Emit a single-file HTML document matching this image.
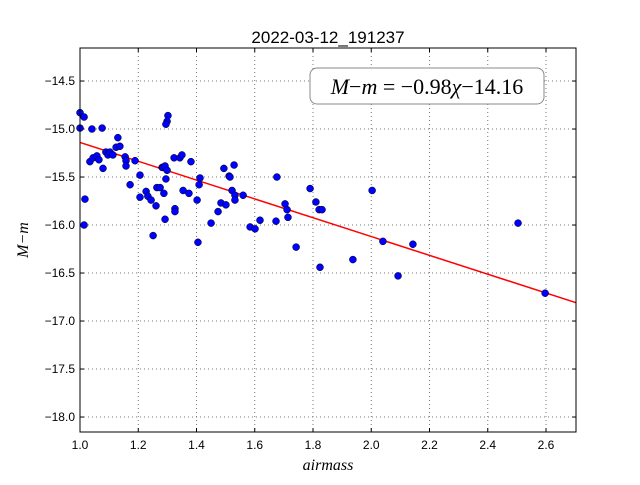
<!DOCTYPE html>
<html><head><meta charset="utf-8"><style>
body{margin:0;background:#fff;}
svg text{font-family:"Liberation Sans",sans-serif;}
</style></head><body>
<svg id="chart" width="640" height="480" xmlns="http://www.w3.org/2000/svg">
<rect x="0" y="0" width="640" height="480" fill="#fff"/>
<text x="328" y="43" text-anchor="middle" font-size="17">2022-03-12_191237</text>
<g id="grid"></g>
<g id="ticks"></g>
<line id="fit" stroke="#ff0000" stroke-width="1.5"/>
<g id="pts"></g>
<rect x="80" y="48" width="496" height="384" fill="none" stroke="#000" stroke-width="1"/>
<text x="328" y="470" text-anchor="middle" font-size="16" font-style="italic" style="font-family:'Liberation Serif',serif">airmass</text>
<text x="28" y="240" text-anchor="middle" font-size="16" font-style="italic" transform="rotate(-90 28 240)" style="font-family:'Liberation Serif',serif">M−m</text>
<g>
<rect x="310" y="68" width="234" height="36" rx="7" fill="#fff" stroke="#888" stroke-width="1"/>
<text x="427" y="94" text-anchor="middle" font-size="22" style="font-family:'Liberation Serif',serif"><tspan font-style="italic">M</tspan>−<tspan font-style="italic">m</tspan> = −0.98<tspan font-style="italic">χ</tspan>−14.16</text>
</g>
</svg>
<script>
const airmass=[1.00,1.014,1.00,1.041,1.076,1.130,1.124,1.137,1.017,1.014,1.034,1.045,1.058,1.065,1.079,1.089,1.096,1.103,1.113,1.155,1.158,1.158,1.172,1.189,1.206,1.206,1.227,1.233,1.244,1.251,1.264,1.261,1.275,1.282,1.285,1.292,1.295,1.302,1.299,1.295,1.288,1.292,1.299,1.323,1.326,1.326,1.343,1.350,1.354,1.374,1.381,1.402,1.405,1.409,1.412,1.450,1.474,1.484,1.494,1.501,1.512,1.515,1.522,1.529,1.532,1.532,1.560,1.584,1.601,1.618,1.673,1.676,1.704,1.711,1.714,1.742,1.790,1.810,1.821,1.831,1.824,1.937,2.003,2.040,2.092,2.143,2.504,2.597];
const mag=[-14.83,-14.875,-14.99,-15.0,-14.99,-15.09,-15.19,-15.18,-15.73,-16.0,-15.34,-15.30,-15.28,-15.32,-15.41,-15.24,-15.27,-15.24,-15.27,-15.29,-15.33,-15.385,-15.58,-15.33,-15.71,-15.48,-15.65,-15.70,-15.74,-16.11,-15.61,-15.80,-15.61,-15.40,-15.40,-15.385,-15.52,-14.86,-14.92,-14.95,-15.67,-15.94,-15.43,-15.30,-15.83,-15.86,-15.30,-15.27,-15.64,-15.67,-15.34,-15.74,-16.18,-15.58,-15.51,-15.98,-15.86,-15.77,-15.41,-15.79,-15.49,-15.50,-15.64,-15.375,-15.69,-15.74,-15.69,-16.02,-16.04,-15.95,-15.96,-15.50,-15.78,-15.84,-15.92,-16.23,-15.62,-15.76,-15.84,-15.84,-16.44,-16.36,-15.64,-16.17,-16.53,-16.20,-15.98,-16.71];
const xTicks=[1.0,1.2,1.4,1.6,1.8,2.0,2.2,2.4,2.6];
const yTicks=[-14.5,-15.0,-15.5,-16.0,-16.5,-17.0,-17.5,-18.0];
const slope=-0.98, intercept=-14.16;
const X0=80,X1=576,Y0=48,Y1=432, xmin=1.0,xmax=2.703, ymax=-14.156,ymin=-18.156;
const sx=v=>X0+(v-xmin)/(xmax-xmin)*(X1-X0);
const sy=v=>Y0+(ymax-v)/(ymax-ymin)*(Y1-Y0);
const NS="http://www.w3.org/2000/svg";
const grid=document.getElementById('grid'), ticks=document.getElementById('ticks'), pts=document.getElementById('pts');
function mk(tag,attrs,parent){const e=document.createElementNS(NS,tag);for(const k in attrs)e.setAttribute(k,attrs[k]);parent.appendChild(e);return e;}
xTicks.forEach(t=>{const x=sx(t);
 const g=mk('line',{x1:x,x2:x,y1:Y0,y2:Y1,stroke:'#777','stroke-dasharray':'1,3'},grid);
 
 
 mk('line',{x1:x,x2:x,y1:Y1,y2:Y1-4,stroke:'#000'},ticks);
 mk('line',{x1:x,x2:x,y1:Y0,y2:Y0+4,stroke:'#000'},ticks);
 const l=mk('text',{x:x,y:Y1+17,'text-anchor':'middle','font-size':'12'},ticks);
 l.textContent=t.toFixed(1);
 
 
});
yTicks.forEach(t=>{const y=sy(t);
 const g=mk('line',{x1:X0,x2:X1,y1:y,y2:y,stroke:'#777','stroke-dasharray':'1,3'},grid);
 
 
 mk('line',{x1:X0,x2:X0+4,y1:y,y2:y,stroke:'#000'},ticks);
 mk('line',{x1:X1,x2:X1-4,y1:y,y2:y,stroke:'#000'},ticks);
 const l=mk('text',{x:X0-5,y:y+4,'text-anchor':'end','font-size':'12'},ticks);
 l.textContent='−'+Math.abs(t).toFixed(1);
 
 
});
const fit=document.getElementById('fit');
fit.setAttribute('x1',sx(xmin));fit.setAttribute('y1',sy(slope*xmin+intercept));
fit.setAttribute('x2',sx(xmax));fit.setAttribute('y2',sy(slope*xmax+intercept));
airmass.forEach((a,i)=>{
 const c=mk('circle',{cx:sx(a),cy:sy(mag[i]),r:3.5,fill:'#0000ff',stroke:'#000','stroke-width':'0.5'},pts);
 
 
});
</script>
</body></html>
